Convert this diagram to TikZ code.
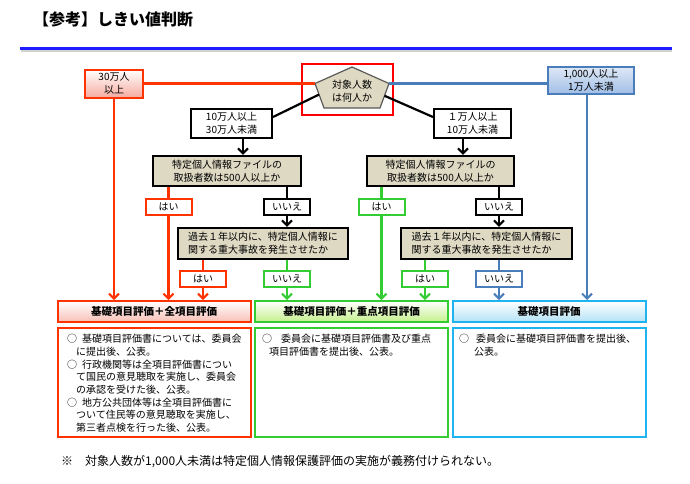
\documentclass[tikz,border=0pt]{standalone}
\usepackage{fontspec}
\setmainfont{Noto Sans CJK JP}
\usetikzlibrary{arrows.meta,calc}
\definecolor{redC}{RGB}{255,51,0}
\definecolor{frameC}{RGB}{255,0,0}
\definecolor{greenC}{RGB}{51,204,51}
\definecolor{blueC}{RGB}{74,126,187}
\definecolor{skyC}{RGB}{30,180,240}
\definecolor{beige}{RGB}{221,217,195}
\definecolor{ruleC}{RGB}{30,30,255}
\definecolor{pinkB}{RGB}{246,172,160}
\definecolor{pinkH}{RGB}{248,192,182}
\definecolor{greenH}{RGB}{196,240,140}
\definecolor{blueH}{RGB}{180,226,246}
\definecolor{blueT}{RGB}{222,232,246}
\definecolor{blueB}{RGB}{160,190,230}
\begin{document}
\begin{tikzpicture}[x=1pt,y=-1pt,
  lab/.style={draw, line width=2pt, fill=white, minimum width=46pt, minimum height=16pt, inner sep=0pt, font=\fontsize{10}{12}\selectfont},
  conn/.style={line width=2.2pt},
  arr/.style={conn, -{Straight Barb[length=5pt,width=10pt,line width=2pt]}},
  decbox/.style={draw=black, line width=2.4pt, fill=beige, inner sep=0pt, font=\fontsize{10}{13}\selectfont, align=center},
  plainbox/.style={draw=black, line width=2pt, fill=white, inner sep=0pt, font=\fontsize{10}{12.5}\selectfont, align=center},
  hdr/.style={line width=2pt, minimum width=193pt, minimum height=21pt, inner sep=0pt, font=\bfseries\fontsize{10.5}{12}\selectfont},
  bodybox/.style={fill=white, line width=2pt, minimum width=193pt, minimum height=109pt, inner sep=0pt},
  bodytext/.style={anchor=north west, inner sep=0pt, align=left, font=\fontsize{10}{12.7}\selectfont}]
\useasboundingbox (0,0) rectangle (690,483);
% title
\node[anchor=west, inner sep=0pt, font=\bfseries\fontsize{16}{19}\selectfont] (title) at (33,19) {【参考】しきい値判断};
\draw[line width=2pt, gray!35] (21,50.5) -- (672,50.5);
\draw[line width=3pt, ruleC] (20,48) -- (672,48);
% pentagon
\coordinate (pT) at (352,67);
\coordinate (pL) at (315,83.5);
\coordinate (pR) at (389,83.5);
\coordinate (pBL) at (324,108);
\coordinate (pBR) at (380,108);
\draw[fill=beige, draw=black!65, line width=1.2pt] (pT) -- (pR) -- (pBR) -- (pBL) -- (pL) -- cycle;
\node[inner sep=0pt, align=center, font=\fontsize{10}{12.5}\selectfont] (pent) at (352,91) {対象人数\\は何人か};
\node[draw=frameC, line width=2.8pt, minimum width=91pt, minimum height=51pt, inner sep=0pt] (frame) at (347.5,89.5) {};
% top boxes
\node[draw=redC, line width=2pt, top color=white, bottom color=pinkB, minimum width=58pt, minimum height=28pt, inner sep=0pt, align=center, font=\fontsize{10}{12.5}\selectfont] (n30) at (114,83.5) {30万人\\以上};
\node[draw=blueC, line width=2pt, top color=blueT, bottom color=blueB, minimum width=86pt, minimum height=27pt, inner sep=0pt, align=center, font=\fontsize{10}{12.5}\selectfont] (n1000) at (591,80.5) {1,000人以上\\1万人未満};
\node[plainbox, minimum width=81pt, minimum height=29pt] (n10) at (231.5,123.5) {10万人以上\\30万人未満};
\node[plainbox, minimum width=77pt, minimum height=29pt] (n1) at (472.5,123.5) {１万人以上\\10万人未満};
\draw[conn, redC] (n30.east) -- (n30.east -| pL);
\draw[conn, blueC] (pR) -- (n1000.west |- pR);
\draw[conn, black] ($(pL)!0.45!(pBL)$) -- ([yshift=-9pt]n10.north east);
\draw[conn, black] ($(pR)!0.5!(pBR)$) -- ([yshift=-9pt]n1.north west);
% decision boxes
\node[decbox, minimum width=148pt, minimum height=30pt] (dL) at (227,171) {特定個人情報ファイルの\\取扱者数は500人以上か};
\node[decbox, minimum width=147pt, minimum height=30pt] (dR) at (440.5,171) {特定個人情報ファイルの\\取扱者数は500人以上か};
\draw[arr, black] ([xshift=11.5pt]n10.south) -- ([xshift=11.5pt]n10.south |- dL.north);
\draw[arr, black] ([xshift=-9.5pt]n1.south) -- ([xshift=-9.5pt]n1.south |- dR.north);
% accident boxes
\node[decbox, minimum width=170pt, minimum height=31pt, align=left, font=\fontsize{10}{13}\selectfont] (kL) at (263,243.5) {過去１年以内に、特定個人情報に\\関する重大事故を発生させたか};
\node[decbox, minimum width=171pt, minimum height=31pt, align=left, font=\fontsize{10}{13}\selectfont] (kR) at (486.5,243.5) {過去１年以内に、特定個人情報に\\関する重大事故を発生させたか};
% labels
\node[lab, draw=redC] (yL1) at (168.5,207) {はい};
\node[lab, draw=black] (nL1) at (287,207) {いいえ};
\node[lab, draw=redC] (yL2) at (203,279) {はい};
\node[lab, draw=greenC] (nL2) at (287,279) {いいえ};
\node[lab, draw=greenC] (yR1) at (381.5,207) {はい};
\node[lab, draw=black] (nR1) at (499,207) {いいえ};
\node[lab, draw=greenC] (yR2) at (425,279) {はい};
\node[lab, draw=blueC] (nR2) at (499,279) {いいえ};
% result headers and bodies
\node[hdr, draw=redC, top color=white, bottom color=pinkH] (hRed) at (154,311.5) {基礎項目評価＋全項目評価};
\node[hdr, draw=greenC, top color=white, bottom color=greenH] (hGreen) at (351.5,311.5) {基礎項目評価＋重点項目評価};
\node[hdr, draw=skyC, top color=white, bottom color=blueH] (hBlue) at (549,311.5) {基礎項目評価};
\node[bodybox, draw=redC] (bRed) at (154,382.5) {};
\node[bodybox, draw=greenC] (bGreen) at (351.5,382.5) {};
\node[bodybox, draw=skyC] (bBlue) at (549,382.5) {};
\node[bodytext] (tRed) at (67,334) {\makebox[15pt][l]{○}基礎項目評価書については、委員会\\
\hspace*{9pt}に提出後、公表。\\
\makebox[15pt][l]{○}行政機関等は全項目評価書につい\\
\hspace*{9pt}て国民の意見聴取を実施し、委員会\\
\hspace*{9pt}の承認を受けた後、公表。\\
\makebox[15pt][l]{○}地方公共団体等は全項目評価書に\\
\hspace*{9pt}ついて住民等の意見聴取を実施し、\\
\hspace*{9pt}第三者点検を行った後、公表。};
\node[bodytext] (tGreen) at (262,334) {\makebox[19pt][l]{○}委員会に基礎項目評価書及び重点\\
\hspace*{7pt}項目評価書を提出後、公表。};
\node[bodytext] (tBlue) at (459,334) {\makebox[17pt][l]{○}委員会に基礎項目評価書を提出後、\\
\hspace*{15pt}公表。};
% connectors to labels and results
\draw[arr, redC] (n30.south) -- (n30.south |- hRed.north);
\draw[conn, redC] (dL.south -| yL1) -- (yL1.north);
\draw[arr, redC] (yL1.south) -- (yL1.south |- hRed.north);
\draw[conn, black] (dL.south -| nL1) -- (nL1.north);
\draw[arr, black] (nL1.south) -- (nL1.south |- kL.north);
\draw[conn, redC] (kL.south -| yL2) -- (yL2.north);
\draw[arr, redC] (yL2.south) -- (yL2.south |- hRed.north);
\draw[conn, greenC] (kL.south -| nL2) -- (nL2.north);
\draw[arr, greenC] (nL2.south) -- (nL2.south |- hGreen.north);
\draw[conn, greenC] (dR.south -| yR1) -- (yR1.north);
\draw[arr, greenC] (yR1.south) -- (yR1.south |- hGreen.north);
\draw[conn, black] (dR.south -| nR1) -- (nR1.north);
\draw[arr, black] (nR1.south) -- (nR1.south |- kR.north);
\draw[conn, greenC] (kR.south -| yR2) -- (yR2.north);
\draw[arr, greenC] (yR2.south) -- (yR2.south |- hGreen.north);
\draw[conn, blueC] (kR.south -| nR2) -- (nR2.north);
\draw[arr, blueC] (nR2.south) -- (nR2.south |- hBlue.north);
\draw[arr, blueC] ([xshift=-4pt]n1000.south) -- ([xshift=-4pt]n1000.south |- hBlue.north);
% footer
\node[anchor=west, inner sep=0pt, font=\fontsize{12}{14}\selectfont] (foot) at (61,462) {※　対象人数が1,000人未満は特定個人情報保護評価の実施が義務付けられない。};
\end{tikzpicture}
\end{document}
